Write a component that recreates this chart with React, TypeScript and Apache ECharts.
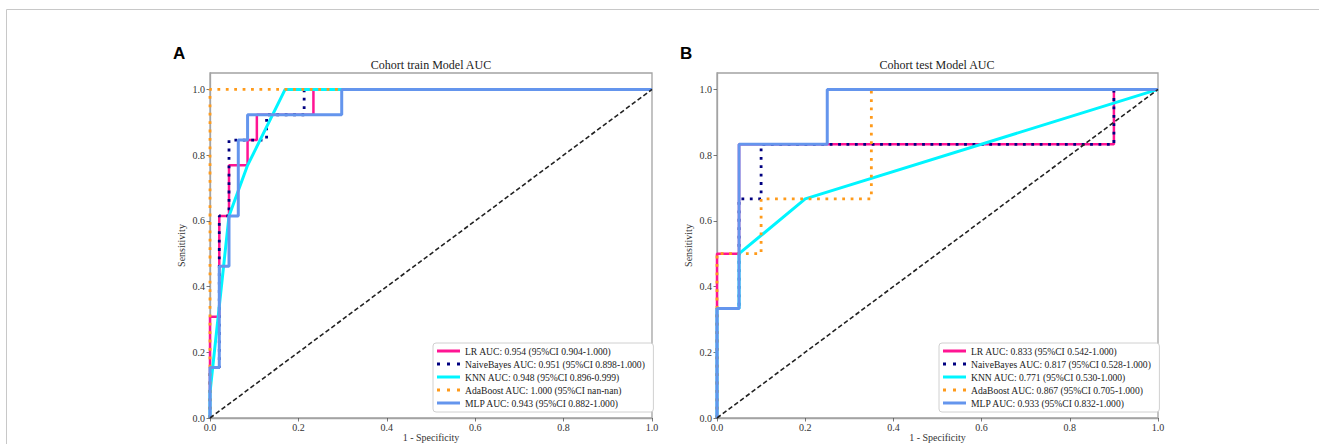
import React, { useEffect, useRef } from "react";
import * as echarts from "echarts";

// ---------- data ----------
const trainNames = [
  "LR AUC: 0.954 (95%CI 0.904-1.000)",
  "NaiveBayes AUC: 0.951 (95%CI 0.898-1.000)",
  "KNN AUC: 0.948 (95%CI 0.896-0.999)",
  "AdaBoost AUC: 1.000 (95%CI nan-nan)",
  "MLP AUC: 0.943 (95%CI 0.882-1.000)",
];
const testNames = [
  "LR AUC: 0.833 (95%CI 0.542-1.000)",
  "NaiveBayes AUC: 0.817 (95%CI 0.528-1.000)",
  "KNN AUC: 0.771 (95%CI 0.530-1.000)",
  "AdaBoost AUC: 0.867 (95%CI 0.705-1.000)",
  "MLP AUC: 0.933 (95%CI 0.832-1.000)",
];

const trainLR = [[0, 0], [0, 0.308], [0.021, 0.308], [0.021, 0.615], [0.043, 0.615], [0.043, 0.769], [0.085, 0.769], [0.085, 0.846], [0.106, 0.846], [0.106, 0.923], [0.234, 0.923], [0.234, 1], [1, 1]];
const trainNB = [[0, 0], [0, 0.154], [0.021, 0.154], [0.021, 0.615], [0.043, 0.615], [0.043, 0.846], [0.128, 0.846], [0.128, 0.923], [0.213, 0.923], [0.213, 1], [1, 1]];
const trainKNN = [[0, 0], [0, 0.077], [0.043, 0.615], [0.085, 0.769], [0.17, 1], [1, 1]];
const trainAda = [[0, 0], [0, 1], [1, 1]];
const trainMLP = [[0, 0], [0, 0.154], [0.021, 0.154], [0.021, 0.462], [0.043, 0.462], [0.043, 0.615], [0.064, 0.615], [0.064, 0.846], [0.085, 0.846], [0.085, 0.923], [0.298, 0.923], [0.298, 1], [1, 1]];

const testLR = [[0, 0], [0, 0.5], [0.05, 0.5], [0.05, 0.833], [0.9, 0.833], [0.9, 1], [1, 1]];
const testNB = [[0, 0], [0, 0.333], [0.05, 0.333], [0.05, 0.667], [0.1, 0.667], [0.1, 0.833], [0.9, 0.833], [0.9, 1], [1, 1]];
const testKNN = [[0, 0], [0, 0.333], [0.05, 0.333], [0.05, 0.5], [0.2, 0.667], [1, 1]];
const testAda = [[0, 0], [0, 0.5], [0.1, 0.5], [0.1, 0.667], [0.35, 0.667], [0.35, 1], [1, 1]];
const testMLP = [[0, 0], [0, 0.333], [0.05, 0.333], [0.05, 0.833], [0.25, 0.833], [0.25, 1], [1, 1]];

const diagonal = [[0, 0], [1, 1]];
const tickValues = [0, 0.2, 0.4, 0.6, 0.8, 1.0];

// ---------- styles ----------
const SERIF = "'Liberation Serif', 'Times New Roman', serif";
const FRAME = "#a3a3a3";
const colors = ["#ff1493", "#000080", "#00f5ff", "#ff9a1a", "#6495ed"];
const widths = [2.5, 2.8, 3, 2.8, 3];
const dotted = [false, true, false, true, false];
const DOT_ICON = "path://M0,0h3v3h-3zM10,0h3v3h-3zM20,0h3v3h-3z";

function makeSeries(names: string[], datasets: number[][][], gi: number) {
  const s: any[] = names.map((n, i) => ({
    name: n,
    type: "line",
    xAxisIndex: gi,
    yAxisIndex: gi,
    data: datasets[i],
    showSymbol: false,
    symbol: "none",
    clip: true,
    itemStyle: { color: colors[i] },
    lineStyle: {
      color: colors[i],
      width: widths[i],
      type: dotted[i] ? [2.8, 5.6] : "solid",
      cap: "butt",
    },
    z: 2 + i,
  }));
  s.push({
    name: "diag" + gi,
    type: "line",
    xAxisIndex: gi,
    yAxisIndex: gi,
    data: diagonal,
    showSymbol: false,
    symbol: "none",
    lineStyle: { color: "#222", width: 1.6, type: [4.6, 2.6] },
    z: 10,
  });
  return s;
}

function makeLegend(names: string[], left: number) {
  return {
    left,
    top: 343,
    orient: "vertical",
    itemWidth: 23,
    itemHeight: 3,
    itemGap: 1,
    padding: [2, 8, 3, 4],
    backgroundColor: "#fff",
    borderColor: "#d0d0d0",
    borderWidth: 1,
    borderRadius: 3,
    selectedMode: false,
    itemStyle: { borderWidth: 0 },
    textStyle: { fontFamily: SERIF, fontSize: 9.6, color: "#222", lineHeight: 12 },
    data: names.map((n, i) => ({ name: n, icon: dotted[i] ? DOT_ICON : "rect" })),
  };
}

function xAxis(gi: number) {
  return {
    type: "value",
    gridIndex: gi,
    min: 0,
    max: 1,
    interval: 0.2,
    name: "1 - Specificity",
    nameLocation: "middle",
    nameGap: 14,
    nameMoveOverlap: false,
    nameTextStyle: { fontFamily: SERIF, fontSize: 10, color: "#333" },
    axisLine: { show: true, lineStyle: { color: FRAME, width: 1.3 } },
    axisTick: { show: true, length: 3.5, lineStyle: { color: "#555", width: 0.8 } },
    axisLabel: { fontFamily: SERIF, fontSize: 10, color: "#333", margin: 4, formatter: (v: number) => v.toFixed(1) },
    splitLine: { show: false },
  };
}

function yAxis(gi: number) {
  return {
    type: "value",
    gridIndex: gi,
    min: 0,
    max: 1.05,
    name: "Sensitivity",
    nameLocation: "middle",
    nameGap: 24,
    nameMoveOverlap: false,
    nameTextStyle: { fontFamily: SERIF, fontSize: 10, color: "#333" },
    axisLine: { show: true, lineStyle: { color: FRAME, width: 1.3 } },
    axisTick: { show: true, length: 3.5, customValues: tickValues, lineStyle: { color: "#555", width: 0.8 } },
    axisLabel: { fontFamily: SERIF, fontSize: 10, color: "#333", margin: 5, customValues: tickValues, formatter: (v: number) => v.toFixed(1) },
    splitLine: { show: false },
  };
}

export default function App() {
  const ref = useRef<HTMLDivElement>(null);
  useEffect(() => {
    document.body.style.margin = "0";
    if (!ref.current) return;
    const chart = echarts.init(ref.current, null, { renderer: "svg" });
    const titleStyle = { fontFamily: SERIF, fontSize: 12, fontWeight: "normal", color: "#222" };
    const option: any = {
      animation: false,
      backgroundColor: "#fff",
      title: [
        { text: "Cohort train Model AUC", left: 431, top: 59, padding: 0, textAlign: "center", textStyle: titleStyle },
        { text: "Cohort test Model AUC", left: 937, top: 59, padding: 0, textAlign: "center", textStyle: titleStyle },
      ],
      grid: [
        { left: 210, top: 73, width: 442, height: 345, show: true, borderColor: FRAME, borderWidth: 1.3, backgroundColor: "transparent", containLabel: false, outerBoundsMode: "none" },
        { left: 717, top: 73, width: 441, height: 345, show: true, borderColor: FRAME, borderWidth: 1.3, backgroundColor: "transparent", containLabel: false, outerBoundsMode: "none" },
      ],
      xAxis: [xAxis(0), xAxis(1)],
      yAxis: [yAxis(0), yAxis(1)],
      legend: [makeLegend(trainNames, 433), makeLegend(testNames, 939)],
      graphic: [
        { type: "line", shape: { x1: 6.5, y1: 9.5, x2: 1319, y2: 9.5 }, style: { stroke: "#c8c8c8", lineWidth: 1 } },
        { type: "line", shape: { x1: 6.5, y1: 9.5, x2: 6.5, y2: 444 }, style: { stroke: "#c8c8c8", lineWidth: 1 } },
        { type: "text", left: 173, top: 45, style: { text: "A", fontFamily: "'Liberation Sans', Arial, sans-serif", fontWeight: "bold", fontSize: 17, fill: "#000" } },
        { type: "text", left: 680, top: 45, style: { text: "B", fontFamily: "'Liberation Sans', Arial, sans-serif", fontWeight: "bold", fontSize: 17, fill: "#000" } },
      ],
      series: [
        ...makeSeries(trainNames, [trainLR, trainNB, trainKNN, trainAda, trainMLP], 0),
        ...makeSeries(testNames, [testLR, testNB, testKNN, testAda, testMLP], 1),
      ],
    };
    chart.setOption(option);
    return () => chart.dispose();
  }, []);
  return <div ref={ref} style={{ width: 1319, height: 444 }} />;
}
